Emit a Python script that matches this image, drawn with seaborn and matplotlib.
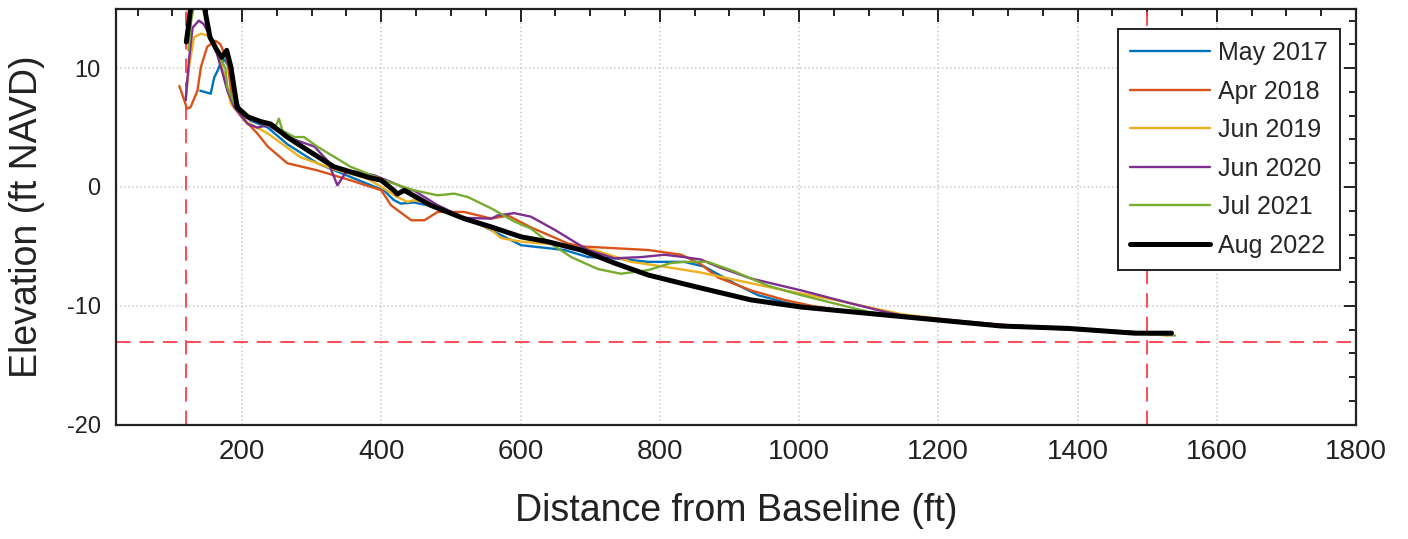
import matplotlib
import matplotlib.pyplot as plt
import pandas as pd
import seaborn as sns
from matplotlib.ticker import MultipleLocator

matplotlib.use("Agg")

# ---------------------------------------------------------------------------
# Beach profile surveys (distance from baseline in ft, elevation in ft NAVD)
# ---------------------------------------------------------------------------
may2017_x = [140, 155, 160, 165, 169, 175, 181, 189, 198, 212, 237, 265, 308, 356, 404,
             418, 428, 447, 471, 519, 543, 601, 663, 697, 735, 783, 835, 864, 907, 941,
             979, 1003, 1075, 1147, 1219, 1291, 1387, 1480, 1516]
may2017_y = [8.1, 7.85, 9.2, 9.8, 10.4, 10.7, 10.1, 7.9, 6.4, 5.6, 5.0, 3.6, 2.0, 0.84, -0.3,
             -1.1, -1.4, -1.3, -1.6, -2.7, -3.2, -4.9, -5.3, -5.9, -6.0, -6.3, -6.3, -6.7, -8.1, -9.1,
             -9.7, -10.0, -10.5, -10.9, -11.3, -11.7, -12.0, -12.3, -12.4]

apr2018_x = [110, 121, 126, 136, 141, 150, 162, 169, 179, 186, 203, 222, 237, 265, 308,
             356, 400, 414, 443, 462, 481, 519, 558, 582, 615, 668, 687, 783, 831, 859,
             883, 931, 979, 1018, 1075, 1147, 1219, 1291, 1387, 1482, 1520]
apr2018_y = [8.5, 6.6, 6.7, 8.1, 10.1, 11.8, 12.3, 12.0, 10.6, 7.3, 5.7, 4.5, 3.4, 2.0, 1.4,
             0.56, -0.28, -1.54, -2.8, -2.8, -2.1, -2.1, -2.66, -2.4, -3.4, -4.75, -5.0, -5.3, -5.7, -6.5,
             -7.6, -8.7, -9.5, -10.0, -10.5, -10.9, -11.3, -11.6, -11.9, -12.2, -12.4]

jun2019_x = [119, 124, 131, 141, 150, 160, 169, 177, 184, 203, 237, 284, 332, 380, 400,
             423, 438, 447, 480, 529, 558, 572, 601, 663, 706, 759, 806, 859, 931, 979,
             1051, 1099, 1147, 1219, 1291, 1387, 1482, 1530]
jun2019_y = [7.3, 10.1, 12.6, 12.9, 12.75, 12.0, 10.8, 8.7, 7.0, 5.6, 4.5, 2.5, 1.5, 0.7, 0.0,
             -0.84, -1.26, -1.1, -1.6, -2.8, -3.6, -4.3, -4.6, -4.9, -5.3, -6.3, -6.7, -7.2, -8.1, -8.7,
             -9.5, -10.1, -10.7, -11.2, -11.6, -11.9, -12.3, -12.5]

jun2020_x = [119, 124, 129, 138, 145, 155, 164, 171, 179, 189, 208, 222, 237, 265, 304,
             323, 337, 351, 366, 390, 414, 438, 447, 480, 519, 558, 567, 591, 615, 649,
             677, 697, 735, 773, 807, 835, 859, 883, 931, 1003, 1075, 1123, 1147, 1219, 1291,
             1387, 1482, 1525]
jun2020_y = [7.3, 10.8, 13.4, 14.0, 13.7, 12.6, 11.2, 9.8, 8.1, 6.7, 5.3, 5.0, 5.2, 4.2, 3.4,
             2.2, 0.14, 1.4, 1.26, 0.98, 0.42, -0.2, -0.3, -1.5, -2.6, -2.66, -2.4, -2.2, -2.5, -3.6,
             -4.6, -5.3, -6.0, -5.9, -5.7, -5.9, -6.1, -6.7, -7.7, -8.7, -9.8, -10.5, -10.8, -11.2, -11.6,
             -11.9, -12.2, -12.4]

jul2021_x = [123, 127, 136, 146, 154, 164, 171, 176, 179, 189, 212, 237, 249, 253, 258,
             275, 289, 308, 356, 404, 447, 481, 505, 524, 558, 591, 615, 639, 673, 711,
             744, 783, 816, 835, 869, 907, 955, 1003, 1051, 1099, 1147, 1219, 1291, 1387, 1482,
             1540]
jul2021_y = [11.5, 14.0, 17.0, 15.0, 12.5, 11.4, 10.6, 10.0, 8.4, 7.0, 5.9, 5.2, 5.2, 5.75, 4.75,
             4.2, 4.2, 3.4, 1.7, 0.56, -0.28, -0.7, -0.56, -0.84, -1.8, -2.9, -3.5, -4.6, -5.9, -6.9,
             -7.3, -7.0, -6.4, -6.3, -6.3, -7.1, -8.3, -9.1, -9.8, -10.5, -10.9, -11.3, -11.7, -11.9, -12.3,
             -12.5]

aug2022_x = [120, 123, 127, 136, 146, 154, 164, 171, 178, 184, 193, 208, 227, 241, 265,
             294, 332, 380, 400, 418, 423, 433, 471, 519, 558, 601, 639, 687, 735, 783,
             831, 859, 931, 1003, 1075, 1147, 1219, 1291, 1387, 1482, 1535]
aug2022_y = [12.2, 13.5, 15.5, 17.5, 15.1, 12.6, 11.5, 10.9, 11.5, 10.1, 6.7, 5.9, 5.5, 5.3, 4.2,
             3.1, 1.7, 0.84, 0.56, -0.28, -0.6, -0.28, -1.54, -2.66, -3.36, -4.2, -4.6, -5.3, -6.4, -7.4,
             -8.1, -8.5, -9.5, -10.1, -10.5, -10.9, -11.3, -11.7, -11.9, -12.3, -12.3]

survey_labels = ["May 2017", "Apr 2018", "Jun 2019", "Jun 2020", "Jul 2021", "Aug 2022"]
survey_x = [may2017_x, apr2018_x, jun2019_x, jun2020_x, jul2021_x, aug2022_x]
survey_y = [may2017_y, apr2018_y, jun2019_y, jun2020_y, jul2021_y, aug2022_y]

# MATLAB default line colours, last survey drawn thick black
colors = ["#0072BD", "#D95319", "#EDB120", "#7E2F8E", "#77AC30", "#000000"]
widths = [1.7, 1.7, 1.7, 1.7, 1.7, 3.6]

# Reference lines: profile start, closure depth, profile end
start_x = 120
end_x = 1500
closure_y = -13


sns.set_style("white")
plt.rcParams["font.family"] = ["Liberation Sans", "DejaVu Sans"]
plt.rcParams["axes.unicode_minus"] = False

fig = plt.figure(figsize=(14.08, 5.39), dpi=100)
ax = fig.add_axes([116 / 1408, 1 - 424.7 / 539, 1240 / 1408, 416 / 539])

for label, xs, ys, c, lw in zip(survey_labels, survey_x, survey_y, colors, widths):
    df = pd.DataFrame({"x": xs, "y": ys})
    sns.lineplot(data=df, x="x", y="y", ax=ax, color=c, linewidth=lw,
                 sort=False, label=label, zorder=3 if c == "#000000" else 2)

red = "#ff3d4a"
ax.axvline(start_x, color=red, lw=1.3, dashes=(8, 5), zorder=1)
ax.axvline(end_x, color=red, lw=1.3, dashes=(8, 5), zorder=1)
ax.axhline(closure_y, color=red, lw=1.3, dashes=(8, 5), zorder=1)

ax.set_xlim(19, 1800)
ax.set_ylim(-20, 15)
ax.xaxis.set_major_locator(MultipleLocator(200))
ax.xaxis.set_minor_locator(MultipleLocator(50))
ax.yaxis.set_major_locator(MultipleLocator(10))
ax.yaxis.set_minor_locator(MultipleLocator(2))

ax.grid(True, which="major", color="#c8c8c8", linestyle=":", linewidth=1.1)
ax.tick_params(which="both", direction="in", top=True, right=True,
               width=1.4, colors="#222222")
ax.tick_params(which="major", length=9)
ax.tick_params(which="minor", length=5)
ax.tick_params(axis="x", pad=10, labelsize=20)
ax.tick_params(axis="y", pad=11, labelsize=17)
for s in ax.spines.values():
    s.set_linewidth(1.6)
    s.set_color("#222222")

ax.set_xlabel("Distance from Baseline (ft)", fontsize=27, color="#222222")
ax.set_ylabel("Elevation (ft NAVD)", fontsize=27, color="#222222")
ax.xaxis.set_label_coords(0.5, -0.165)
ax.yaxis.set_label_coords(-0.057, 0.5)

leg = ax.legend(loc="upper right", bbox_to_anchor=(1 - 16 / 1240, 1 - 20 / 416),
                borderaxespad=0, fontsize=18, handlelength=3.2, handletextpad=0.3,
                labelspacing=0.58, fancybox=False, framealpha=1, edgecolor="#222222",
                borderpad=0.5)
leg.get_frame().set_linewidth(1.4)

fig.savefig("out.png", dpi=100)
